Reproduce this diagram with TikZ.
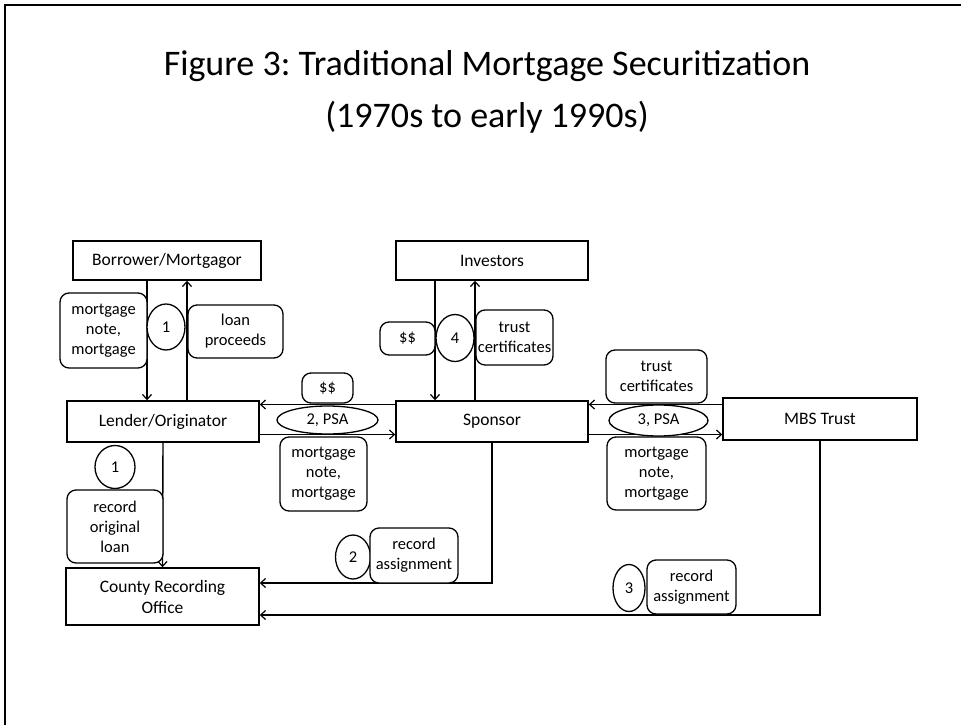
\documentclass[tikz,border=0pt]{standalone}
\usepackage{fontspec}
\setmainfont{Carlito}
\usetikzlibrary{shapes.geometric,arrows.meta}
\frenchspacing
\begin{document}
\begin{tikzpicture}[x=1pt,y=-1pt,
  box/.style={draw,line width=1.4pt,inner sep=0pt,align=center,font=\fontsize{17.5}{21}\selectfont},
  lbl/.style={draw,line width=1.3pt,rounded corners=9pt,fill=white,inner sep=0pt,align=center,font=\fontsize{16.5}{20}\selectfont},
  oval/.style={draw,ellipse,line width=1.3pt,fill=white,inner sep=0pt,font=\fontsize{16.5}{20}\selectfont},
  arr/.style={line width=1.4pt,-{Straight Barb[length=5pt,width=9pt,line width=1.2pt]}},
  ln/.style={line width=1.4pt}]
\useasboundingbox (0,0) rectangle (961,725);
\draw[line width=1.3pt] (961,5) -- (5,5) -- (5,725);
\node[align=center,font=\fontsize{36}{52}\selectfont] (title) at (487,92) {Figure 3: Traditional Mortgage Securitization\\(1970s to early 1990s)};
% main boxes
\node[box,minimum width=188pt,minimum height=39pt] (borrower) at (167,260.5) {Borrower/Mortgagor};
\node[box,minimum width=192pt,minimum height=39pt] (investors) at (492,260.5) {Investors};
\node[box,minimum width=192pt,minimum height=41pt] (lender) at (163,421.5) {Lender/Originator};
\node[box,minimum width=192pt,minimum height=41pt] (sponsor) at (492,421.5) {Sponsor};
\node[box,minimum width=194pt,minimum height=42pt] (mbs) at (820,419) {MBS Trust};
\node[box,minimum width=193pt,minimum height=57pt] (county) at (162.5,596.5) {County Recording\\Office};
% helper coordinates
\coordinate (xa) at (147,0);
\coordinate (xb) at (187,0);
\coordinate (xc) at (435,0);
\coordinate (xd) at (475,0);
\coordinate (yu) at (0,404.5);
\coordinate (yl) at (0,434.5);
\coordinate (y2) at (0,583);
\coordinate (y3) at (0,615);
% connectors
\draw[arr] (borrower.south -| xa) -- (lender.north -| xa);
\draw[arr] (lender.north -| xb) -- (borrower.south -| xb);
\draw[arr] (investors.south -| xc) -- (sponsor.north -| xc);
\draw[arr] (sponsor.north -| xd) -- (investors.south -| xd);
\draw[arr] (sponsor.west |- yu) -- (lender.east |- yu);
\draw[arr] (lender.east |- yl) -- (sponsor.west |- yl);
\draw[arr] (mbs.west |- yu) -- (sponsor.east |- yu);
\draw[arr] (sponsor.east |- yl) -- (mbs.west |- yl);
\draw[arr] (lender.south) -- (county.north);
\draw[arr] (sponsor.south) |- (county.east |- y2);
\draw[arr] (mbs.south) |- (county.east |- y3);
% labels
\node[lbl,minimum width=87pt,minimum height=75pt] (mn1) at (103.5,330.5) {mortgage\\note,\\mortgage};
\node[oval,minimum width=38pt,minimum height=46pt] (o1) at (166,327) {1};
\node[lbl,minimum width=95pt,minimum height=53pt] (lp) at (235.5,331.5) {loan\\proceeds};
\node[lbl,minimum width=55pt,minimum height=33pt] (dd4) at (407.5,338.5) {\$\$};
\node[oval,minimum width=38pt,minimum height=47pt] (o4) at (455,338) {4};
\node[lbl,minimum width=77pt,minimum height=55pt] (tc4) at (514.5,337.5) {trust\\certificates};
\node[lbl,minimum width=51pt,minimum height=30pt] (dd2) at (327.5,388) {\$\$};
\node[oval,minimum width=101pt,minimum height=28pt] (o2) at (327.5,420) {2, PSA};
\node[lbl,minimum width=87pt,minimum height=74pt] (mn2) at (323.5,474) {mortgage\\note,\\mortgage};
\node[lbl,minimum width=101pt,minimum height=53pt] (tc3) at (656.5,376.5) {trust\\certificates};
\node[oval,minimum width=99pt,minimum height=31pt] (o3) at (658.5,420.5) {3, PSA};
\node[lbl,minimum width=99pt,minimum height=73pt] (mn3) at (656.5,473.5) {mortgage\\note,\\mortgage};
\node[oval,minimum width=40pt,minimum height=43pt] (o1b) at (115,467) {1};
\node[lbl,minimum width=96pt,minimum height=73pt] (rol) at (115,526.5) {record\\original\\loan};
\node[oval,minimum width=35pt,minimum height=44pt] (o2b) at (353,557) {2};
\node[lbl,minimum width=88pt,minimum height=55pt] (ra2) at (414,555.5) {record\\assignment};
\node[oval,minimum width=32pt,minimum height=47pt] (o3b) at (629,588) {3};
\node[lbl,minimum width=89pt,minimum height=54pt] (ra3) at (691.5,587) {record\\assignment};
\end{tikzpicture}
\end{document}
